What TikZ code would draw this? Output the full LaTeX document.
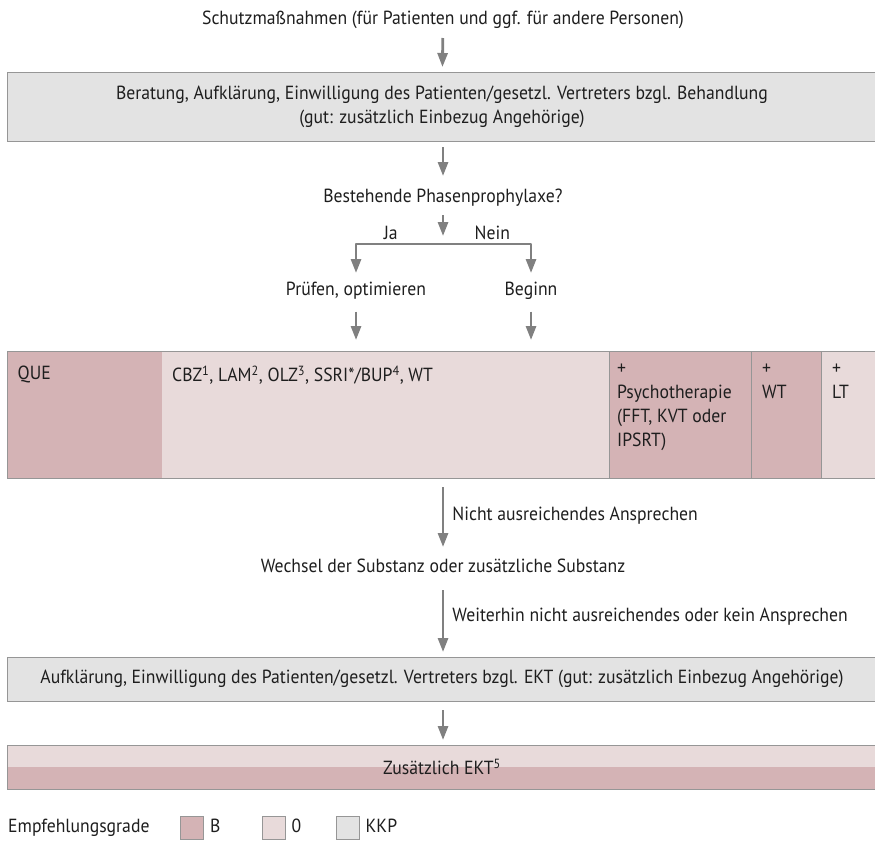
\documentclass[tikz,border=0pt]{standalone}
\usepackage{fontspec}
\setmainfont{PT Sans}[FakeStretch=0.93]
\usetikzlibrary{positioning,arrows.meta}
\definecolor{gradB}{RGB}{212,179,181}
\definecolor{gradNull}{RGB}{232,218,218}
\definecolor{gradKKP}{RGB}{227,227,227}
\definecolor{rand}{RGB}{150,150,150}
\definecolor{pfeil}{RGB}{128,128,128}
\definecolor{schrift}{RGB}{30,30,30}

\begin{document}
\begin{tikzpicture}[
    x=1pt, y=1pt,
    font=\fontsize{19}{24}\selectfont,
    text=schrift,
    plain/.style={inner sep=2pt, outer sep=0pt, text height=14pt, text depth=5pt},
    kkpbox/.style={rectangle, draw=rand, line width=1pt, fill=gradKKP, minimum width=869.5pt, align=center, outer sep=0pt},
    cellB/.style={rectangle, fill=gradB, minimum height=127pt, anchor=north west, outer sep=0pt, inner sep=0pt},
    cellNull/.style={rectangle, fill=gradNull, minimum height=127pt, anchor=north west, outer sep=0pt, inner sep=0pt},
    celltext/.style={anchor=north west, align=left, inner sep=0pt, xshift=10pt, yshift=-15pt},
    legbox/.style={rectangle, draw=rand, line width=1pt, minimum size=23pt, inner sep=0pt},
    legtext/.style={inner sep=0pt, text height=14pt, text depth=5pt},
    arrow/.style={draw=pfeil, line width=2.8pt, line join=round, -{Triangle[length=14pt,width=10pt]}},
    lbl/.style={right, xshift=6pt, inner sep=2pt, text height=14pt, text depth=5pt}
]
    \useasboundingbox (0,0) rectangle (875,-841);

    % Upper part
    \node [plain] (schutz) at (443,-19.5) {Schutzmaßnahmen (für Patienten und ggf. für andere Personen)};
    \node [kkpbox, minimum height=69pt, below of=schutz, node distance=87pt, xshift=-1pt] (beratung) {Beratung, Aufklärung, Einwilligung des Patienten/gesetzl. Vertreters bzgl. Behandlung\\(gut: zusätzlich Einbezug Angehörige)};
    \node [plain, below of=beratung, node distance=91pt, xshift=1pt] (frage) {Bestehende Phasenprophylaxe?};
    \coordinate [below of=frage, node distance=46.5pt] (split);
    \node [plain, below of=frage, node distance=93pt, xshift=-87pt] (pruefen) {Prüfen, optimieren};
    \node [plain, below of=frage, node distance=93pt, xshift=88pt] (beginn) {Beginn};

    % Table
    \node [cellB, minimum width=154.5pt] (que) at (7.5,-351) {};
    \node [cellNull, minimum width=447pt, right=0pt of que] (cbz) {};
    \node [cellB, minimum width=142pt, right=0pt of cbz, draw=rand, line width=1pt] (psycho) {};
    \node [cellB, minimum width=70pt, right=0pt of psycho, draw=rand, line width=1pt] (wt) {};
    \node [cellNull, minimum width=56pt, right=0pt of wt, draw=rand, line width=1pt] (lt) {};
    \draw [rand, line width=1pt] (que.north west) rectangle (lt.south east);

    \node [celltext] (quetext) at (que.north west) {QUE};
    \node [celltext] (cbztext) at (cbz.north west) {CBZ\textsuperscript{1}, LAM\textsuperscript{2}, OLZ\textsuperscript{3}, SSRI*/BUP\textsuperscript{4}, WT};
    \node [celltext, xshift=-2pt, yshift=2pt] (psychotext) at (psycho.north west) {+\\Psychotherapie\\(FFT, KVT oder\\IPSRT)};
    \node [celltext, xshift=1pt, yshift=2pt] (wttext) at (wt.north west) {+\\WT};
    \node [celltext, xshift=1pt, yshift=2pt] (lttext) at (lt.north west) {+\\LT};

    % Lower part
    \node [plain] (wechsel) at (443,-568) {Wechsel der Substanz oder zusätzliche Substanz};
    \node [kkpbox, minimum height=44pt, below of=wechsel, node distance=111pt, xshift=-1pt] (aufkl) {Aufklärung, Einwilligung des Patienten/gesetzl. Vertreters bzgl. EKT (gut: zusätzlich Einbezug Angehörige)};
    \node [kkpbox, minimum height=44pt, fill=gradNull, below of=aufkl, node distance=88pt,
        path picture={\fill [gradB] (path picture bounding box.west) rectangle (path picture bounding box.south east);}] (ekt) {Zusätzlich EKT\textsuperscript{5}};

    % Legend
    \node [legtext, anchor=west] (legende) at (8,-828) {Empfehlungsgrade};
    \node [legbox, fill=gradB] (legB) at (192,-828) {};
    \node [legtext, right=6pt of legB] (legBtext) {B};
    \node [legbox, fill=gradNull] (legNull) at (273.5,-828) {};
    \node [legtext, right=6pt of legNull] (legNulltext) {0};
    \node [legbox, fill=gradKKP] (legKKP) at (347.5,-828) {};
    \node [legtext, right=6pt of legKKP] (legKKPtext) {KKP};

    % Arrows
    \draw [arrow, shorten <=7pt, shorten >=5pt] (schutz) -- (beratung);
    \draw [arrow, shorten <=6pt, shorten >=10pt] (beratung.south -| frage) -- (frage);
    \draw [arrow, shorten <=6pt, shorten >=8pt] (frage) -- (split);
    \draw [arrow, shorten >=6pt] (split) -| node [pos=0.3, above, plain, yshift=-2pt] (ja) {Ja} (pruefen);
    \draw [arrow, shorten >=6pt] (split) -| node [pos=0.28, above, plain, yshift=-2pt] (nein) {Nein} (beginn);
    \draw [arrow, shorten <=9.5pt, shorten >=11pt] (pruefen) -- (pruefen |- cbz.north);
    \draw [arrow, shorten <=9.5pt, shorten >=11pt] (beginn) -- (beginn |- cbz.north);
    \draw [arrow, shorten <=9pt, shorten >=9.5pt] (cbz.south -| wechsel) -- node [lbl, pos=0.48] (nicht) {Nicht ausreichendes Ansprechen} (wechsel);
    \draw [arrow, shorten <=10.5pt, shorten >=5pt] (wechsel) -- node [lbl, pos=0.49] (weiter) {Weiterhin nicht ausreichendes oder kein Ansprechen} (wechsel |- aufkl.north);
    \draw [arrow, shorten <=9pt, shorten >=5pt] (aufkl.south -| wechsel) -- (wechsel |- ekt.north);
\end{tikzpicture}
\end{document}
